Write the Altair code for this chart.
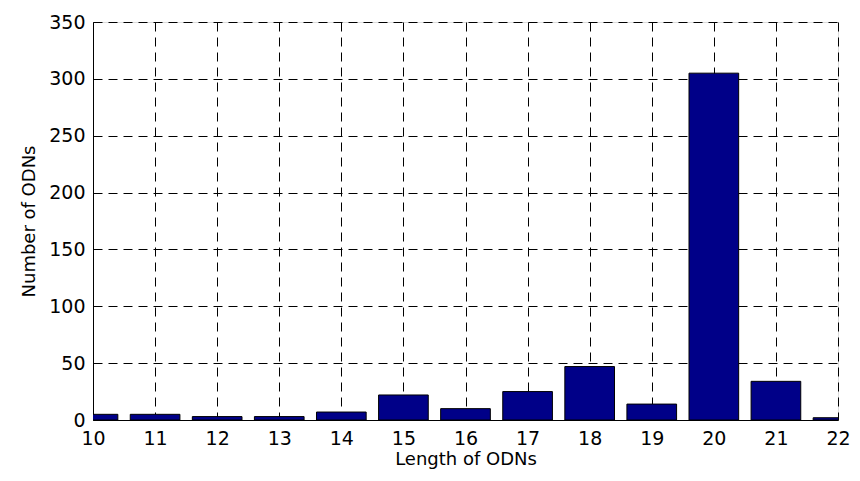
import altair as alt
import pandas as pd

lengths = [10, 11, 12, 13, 14, 15, 16, 17, 18, 19, 20, 21, 22]
counts = [5, 5, 3, 3, 7, 22, 10, 25, 47, 14, 305, 34, 2]
x_ticks = [10, 11, 12, 13, 14, 15, 16, 17, 18, 19, 20, 21, 22]
y_ticks = [0, 50, 100, 150, 200, 250, 300, 350]

df = pd.DataFrame({"length": lengths, "count": counts})

FONT = "DejaVu Sans"

x_axis = alt.Axis(
    values=x_ticks, format="d", title="Length of ODNs", grid=True,
    gridDash=[9, 6], gridColor="black", gridOpacity=1, gridWidth=1,
    domainColor="black", tickSize=0, labelPadding=9, labelFontSize=19,
    labelColor="black", labelFont=FONT, titleFont=FONT, titleFontSize=18,
    titleFontWeight="normal", titleColor="black", titlePadding=2,
    labelFlush=False,
)
y_axis = alt.Axis(
    values=y_ticks, title="Number of ODNs", grid=True,
    gridDash=[9, 6], gridColor="black", gridOpacity=1, gridWidth=1,
    domainColor="black", tickSize=0, labelPadding=8, labelFontSize=19,
    labelColor="black", labelFont=FONT, titleFont=FONT, titleFontSize=18,
    titleFontWeight="normal", titleColor="black", titlePadding=10,
)

chart = (
    alt.Chart(df)
    .transform_calculate(lo="datum.length - 0.4", hi="datum.length + 0.4")
    .mark_bar(color="#000088", stroke="black", strokeWidth=1, clip=True)
    .encode(
        x=alt.X("lo:Q", scale=alt.Scale(domain=[10, 22], nice=False, zero=False), axis=x_axis),
        x2="hi:Q",
        y=alt.Y("count:Q", scale=alt.Scale(domain=[0, 350], nice=False), axis=y_axis),
        y2=alt.datum(0),
    )
    .properties(
        width=745, height=398,
        autosize=alt.AutoSizeParams(type="none"),
        padding={"left": 85, "top": 14, "right": 14, "bottom": 53},
    )
    .configure_view(stroke="black", strokeWidth=1)
    .configure(background="white")
)

chart.save("out.html", embed_options={"renderer": "svg", "actions": False})
